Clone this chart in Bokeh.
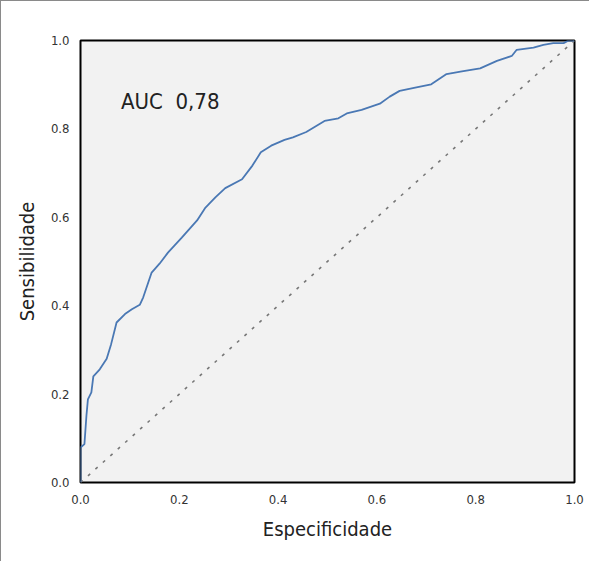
from bokeh.plotting import figure
from bokeh.models import Range1d, FixedTicker, NumeralTickFormatter, Label
from bokeh.embed import file_html
from bokeh.resources import INLINE

# ROC curve (x = Especificidade axis as drawn, y = Sensibilidade)
fpr = [0.0, 0.0, 0.008, 0.012, 0.015, 0.022, 0.026, 0.039, 0.053, 0.062, 0.073,
       0.09, 0.104, 0.12, 0.127, 0.144, 0.16, 0.177, 0.205, 0.236, 0.253, 0.273,
       0.293, 0.327, 0.348, 0.365, 0.386, 0.413, 0.43, 0.457, 0.494, 0.522, 0.539,
       0.569, 0.606, 0.626, 0.646, 0.68, 0.71, 0.741, 0.772, 0.809, 0.843, 0.873,
       0.883, 0.917, 0.937, 0.957, 0.978, 0.988, 1.0]
tpr = [0.0, 0.079, 0.087, 0.151, 0.188, 0.204, 0.24, 0.256, 0.28, 0.313, 0.362,
       0.381, 0.392, 0.402, 0.419, 0.475, 0.495, 0.52, 0.554, 0.593, 0.622, 0.645,
       0.666, 0.686, 0.717, 0.747, 0.762, 0.775, 0.781, 0.793, 0.818, 0.824, 0.835,
       0.843, 0.857, 0.873, 0.886, 0.894, 0.901, 0.924, 0.930, 0.937, 0.954, 0.965,
       0.979, 0.984, 0.990, 0.994, 0.994, 1.0, 1.0]
diag_x = [0.0, 1.0]
diag_y = [0.0, 1.0]
ticks = [0.0, 0.2, 0.4, 0.6, 0.8, 1.0]
auc_text = "AUC\u00a0\u00a00,78"
auc_pos = (0.082, 0.862)
x_title = "Especificidade"
y_title = "Sensibilidade"

FONT = "'Liberation Sans Narrow', 'DejaVu Sans Condensed', sans-serif"

p = figure(width=589, height=561, output_backend="svg", toolbar_location=None,
           x_range=Range1d(0, 1), y_range=Range1d(0, 1),
           min_border_left=79, min_border_right=16, min_border_top=39,
           min_border_bottom=80)
p.styles = {"border-left": "1px solid #8a8a8a", "border-top": "1px solid #8a8a8a"}
p.background_fill_color = "#f2f2f2"
p.border_fill_color = "white"
p.outline_line_color = "black"
p.outline_line_width = 2
p.xgrid.visible = False
p.ygrid.visible = False

for ax in (p.xaxis[0], p.yaxis[0]):
    ax.ticker = FixedTicker(ticks=ticks)
    ax.formatter = NumeralTickFormatter(format="0.0")
    ax.axis_line_color = None
    ax.major_tick_line_color = None
    ax.minor_tick_line_color = None
    ax.major_label_text_font = FONT
    ax.major_label_text_font_size = "13px"
    ax.major_label_text_color = "#333333"
    ax.axis_label_text_font = FONT
    ax.axis_label_text_font_size = "20px"
    ax.axis_label_text_font_style = "normal"
    ax.axis_label_text_color = "#222222"

p.xaxis.axis_label = x_title
p.yaxis.axis_label = y_title
p.xaxis.major_label_standoff = 6
p.yaxis.major_label_standoff = 5
p.xaxis.axis_label_standoff = 10
p.yaxis.axis_label_standoff = 9

p.line(diag_x, diag_y, line_color="#777777", line_width=1.6, line_dash="3 7")
p.line(fpr, tpr, line_color="#4a78b4", line_width=1.8)

p.add_layout(Label(x=auc_pos[0], y=auc_pos[1], text=auc_text,
                   text_font=FONT, text_font_size="22px", text_color="#222222",
                   text_baseline="alphabetic"))

open("out.html", "w").write(file_html(p, INLINE))
